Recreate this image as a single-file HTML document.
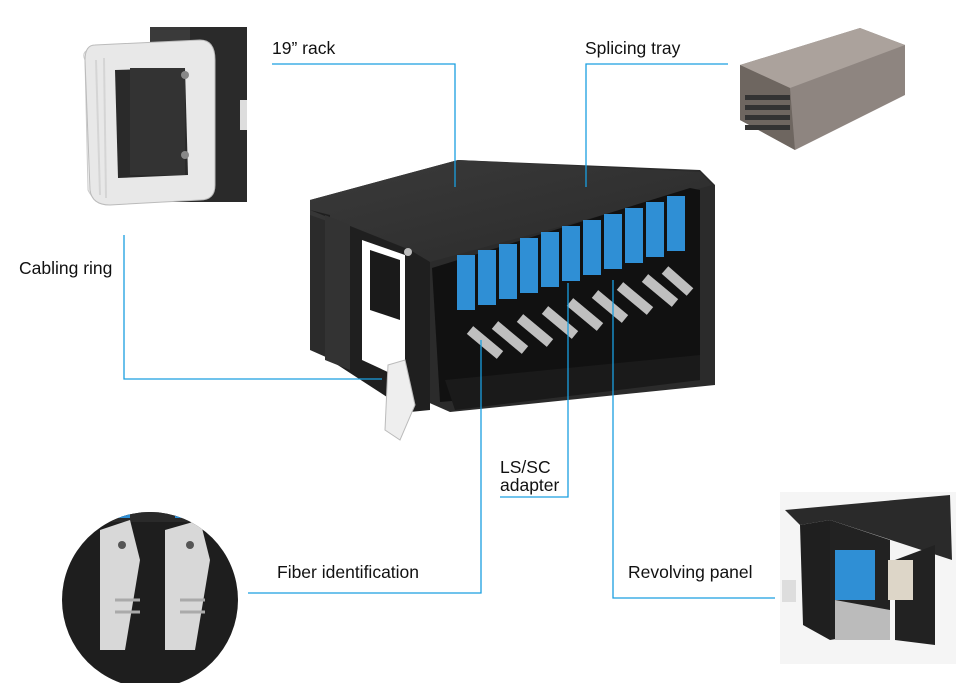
<!DOCTYPE html>
<html><head><meta charset="utf-8"><style>
html,body{margin:0;padding:0;background:#fff;width:967px;height:683px;overflow:hidden}
svg{display:block}
text{font-family:"Liberation Sans",Arial,sans-serif;font-size:17.5px;fill:#111}
</style></head><body>
<svg width="967" height="683" viewBox="0 0 967 683" xmlns="http://www.w3.org/2000/svg">
<defs>
<clipPath id="c"><circle cx="150" cy="600" r="88"/></clipPath>
<linearGradient id="top" x1="0" y1="0" x2="1" y2="1"><stop offset="0" stop-color="#3a3a3a"/><stop offset="1" stop-color="#2a2a2a"/></linearGradient>
</defs>
<!-- Cabling ring closeup -->
<rect x="152" y="27" width="95" height="175" fill="#2a2a2a"/>
<rect x="150" y="27" width="40" height="125" fill="#3a3a3a"/>
<rect x="240" y="100" width="7" height="30" fill="#ddd"/>
<path d="M85 60 Q80 50 95 48 L110 46 L112 200 Q95 205 88 190Z" fill="#f2f2f2" stroke="#ccc"/>
<path d="M95 45 L200 40 Q215 40 215 60 L215 185 Q215 200 200 200 L110 205 Q92 205 90 190 L85 60 Q85 45 95 45Z" fill="#e8e8e8" stroke="#bbb"/>
<path d="M115 70 L185 68 L188 175 L118 178Z" fill="#2a2a2a"/>
<rect x="130" y="68" width="55" height="107" fill="#333"/>
<circle cx="185" cy="75" r="4" fill="#888"/><circle cx="185" cy="155" r="4" fill="#888"/>
<g stroke="#d5d5d5" stroke-width="2"><line x1="96" y1="60" x2="100" y2="195"/><line x1="104" y1="58" x2="106" y2="198"/></g>
<!-- Splicing tray -->
<polygon points="740,65 860,28 905,45 905,95 795,150 740,120" fill="#8e8580"/>
<polygon points="740,65 860,28 905,45 790,88" fill="#aba29c"/>
<polygon points="740,65 790,88 795,150 740,120" fill="#6e6660"/>
<g fill="#333"><rect x="745" y="95" width="45" height="5"/><rect x="745" y="105" width="45" height="5"/><rect x="745" y="115" width="45" height="5"/><rect x="745" y="125" width="45" height="5"/></g>
<!-- Main enclosure -->
<polygon points="310,200 458,160 700,170 715,185 715,385 450,412 310,350" fill="#2b2b2b"/>
<polygon points="310,200 458,160 700,172 712,185 430,262 410,250 310,215" fill="url(#top)"/>
<polygon points="310,210 410,250 430,262 430,410 410,412 330,360 330,215" fill="#1f1f1f"/>
<polygon points="325,215 350,225 350,370 325,360" fill="#333"/>
<polygon points="362,240 405,255 405,380 362,360" fill="#fff"/>
<polygon points="370,250 400,260 400,320 370,310" fill="#1a1a1a"/>
<polygon points="432,268 690,188 700,190 700,380 440,402" fill="#111"/>
<polygon points="445,380 700,355 700,380 455,410" fill="#1a1a1a"/>
<g fill="#2f8fd5">
<rect x="457" y="255" width="18" height="55"/><rect x="478" y="250" width="18" height="55"/><rect x="499" y="244" width="18" height="55"/><rect x="520" y="238" width="18" height="55"/><rect x="541" y="232" width="18" height="55"/><rect x="562" y="226" width="18" height="55"/><rect x="583" y="220" width="18" height="55"/><rect x="604" y="214" width="18" height="55"/><rect x="625" y="208" width="18" height="55"/><rect x="646" y="202" width="18" height="55"/><rect x="667" y="196" width="18" height="55"/>
</g>
<g stroke="#bfbfbf" stroke-width="10">
<line x1="470" y1="330" x2="500" y2="355"/><line x1="495" y1="325" x2="525" y2="350"/><line x1="520" y1="318" x2="550" y2="343"/><line x1="545" y1="310" x2="575" y2="335"/><line x1="570" y1="302" x2="600" y2="327"/><line x1="595" y1="294" x2="625" y2="319"/><line x1="620" y1="286" x2="650" y2="311"/><line x1="645" y1="278" x2="675" y2="303"/><line x1="665" y1="270" x2="690" y2="292"/>
</g>
<path d="M388 365 L405 360 L415 405 L400 440 L385 430Z" fill="#eee" stroke="#bbb"/>
<circle cx="408" cy="252" r="4" fill="#bbb"/>
<!-- Fiber identification circle -->
<circle cx="150" cy="600" r="88" fill="#1e1e1e"/>
<g clip-path="url(#c)">
<rect x="60" y="510" width="180" height="12" fill="#2a2a2a"/>
<rect x="110" y="512" width="20" height="6" fill="#2f8fd5"/><rect x="175" y="512" width="20" height="6" fill="#2f8fd5"/>
<polygon points="100,530 130,520 140,560 125,650 100,650" fill="#d8d8d8"/>
<polygon points="165,530 200,520 210,560 195,650 165,650" fill="#d8d8d8"/>
<circle cx="122" cy="545" r="4" fill="#555"/><circle cx="190" cy="545" r="4" fill="#555"/>
<g stroke="#aaa" stroke-width="3"><line x1="115" y1="600" x2="140" y2="600"/><line x1="115" y1="612" x2="140" y2="612"/><line x1="180" y1="600" x2="205" y2="600"/><line x1="180" y1="612" x2="205" y2="612"/></g>
</g>
<!-- Revolving panel -->
<rect x="780" y="492" width="176" height="172" fill="#f5f5f5"/>
<polygon points="785,510 950,495 952,560 830,520 800,525" fill="#2a2a2a"/>
<polygon points="800,525 830,520 830,640 803,625" fill="#1f1f1f"/>
<polygon points="830,520 890,540 890,630 830,640" fill="#222"/>
<rect x="835" y="550" width="40" height="50" fill="#2f8fd5"/>
<polygon points="895,560 935,545 935,645 895,640" fill="#222"/>
<rect x="888" y="560" width="25" height="40" fill="#ddd6c8"/>
<polygon points="835,600 890,610 890,640 835,640" fill="#bbb"/>
<rect x="782" y="580" width="14" height="22" fill="#ddd"/>
<!-- Connector lines -->
<g stroke="#1a9fe0" stroke-width="1.3" fill="none">
<polyline points="272,64 455,64 455,187"/>
<polyline points="586,187 586,64 728,64"/>
<polyline points="124,235 124,379 382,379"/>
<polyline points="481,340 481,593 248,593"/>
<polyline points="568,283 568,497 500,497"/>
<polyline points="613,280 613,598 775,598"/>
</g>
<text x="272" y="54">19” rack</text>
<text x="585" y="54">Splicing tray</text>
<text x="19" y="274">Cabling ring</text>
<text x="500" y="473">LS/SC</text>
<text x="500" y="491">adapter</text>
<text x="277" y="578">Fiber identification</text>
<text x="628" y="578">Revolving panel</text>
</svg>
</body></html>
